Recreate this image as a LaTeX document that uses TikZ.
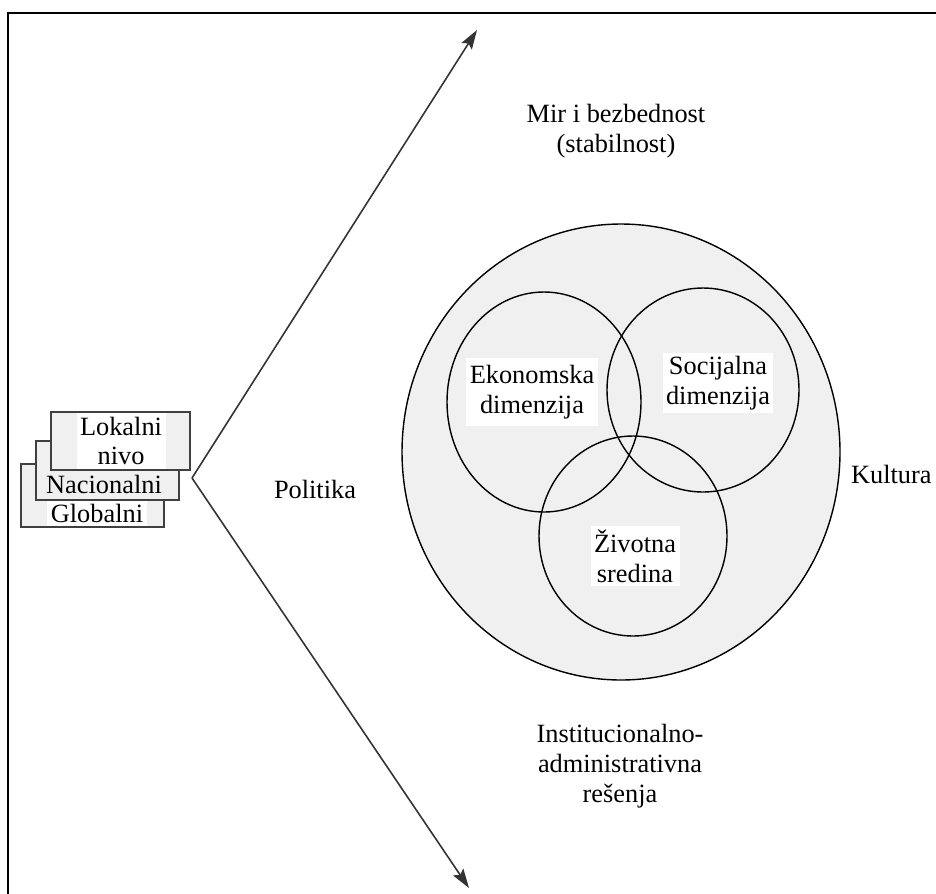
\documentclass[tikz,border=0pt]{standalone}
\usepackage{fontspec}
\setmainfont{Liberation Serif}
\usetikzlibrary{arrows.meta}

\definecolor{shade}{HTML}{F0F0F0}
\tikzset{
  levelbox/.style={draw=black!75,fill=shade,line width=1pt},
  label/.style={fill=white,inner sep=2pt,align=center},
  plain/.style={inner sep=1pt,align=center},
  axisline/.style={draw=black!80,line width=0.9pt,-{Stealth[length=11pt,width=7pt,inset=2pt]}}
}

\begin{document}
\begin{tikzpicture}[x=0.02cm,y=-0.02cm]
\useasboundingbox (0,0) rectangle (936,893);
% okvir
\draw[line width=1.2pt] (8,900) -- (8,13) -- (940,13);

    \begin{scope}[line width=0.8pt,font=\fontsize{15}{17}\selectfont]
% nivoi
\draw[levelbox] (21,464) rectangle (164,527);
\node[label] (global) at (97,513) {Globalni};
\draw[levelbox] (36,441) rectangle (179,500);
\node[plain] (national) at (104,484) {Nacionalni};
\draw[levelbox] (51,412) rectangle (190,470);
\node[label] (local) at (121,441) {Lokalni\\nivo};

% politika
\coordinate (apex) at (192,478);
\coordinate (top tip) at (477,30);
\coordinate (bottom tip) at (469,888);
\draw[axisline] (apex) -- (top tip);
\draw[axisline] (apex) -- (bottom tip);
\node[plain] (politics) at (315,489) {Politika};

% krugovi
\draw[fill=shade] (621,452) ellipse (219 and 228);
\draw (544,402) ellipse (97 and 110);
\draw (703,390) ellipse (96 and 102);
\draw (633,536) ellipse (94 and 100);

\node[label,inner ysep=4pt] (economy) at (532,392) {Ekonomska\\dimenzija};
\node[label] (social) at (718,383) {Socijalna\\dimenzija};
\node[label] (environment) at (635,556) {Životna\\sredina};

\node[plain] (peace) at (616,131) {Mir i bezbednost\\(stabilnost)};
\node[plain,anchor=east] (culture) at (934,474) {Kultura};
\node[plain] (institutions) at (620,766) {Institucionalno-\\administrativna\\rešenja};
\end{scope}
\end{tikzpicture}
\end{document}
